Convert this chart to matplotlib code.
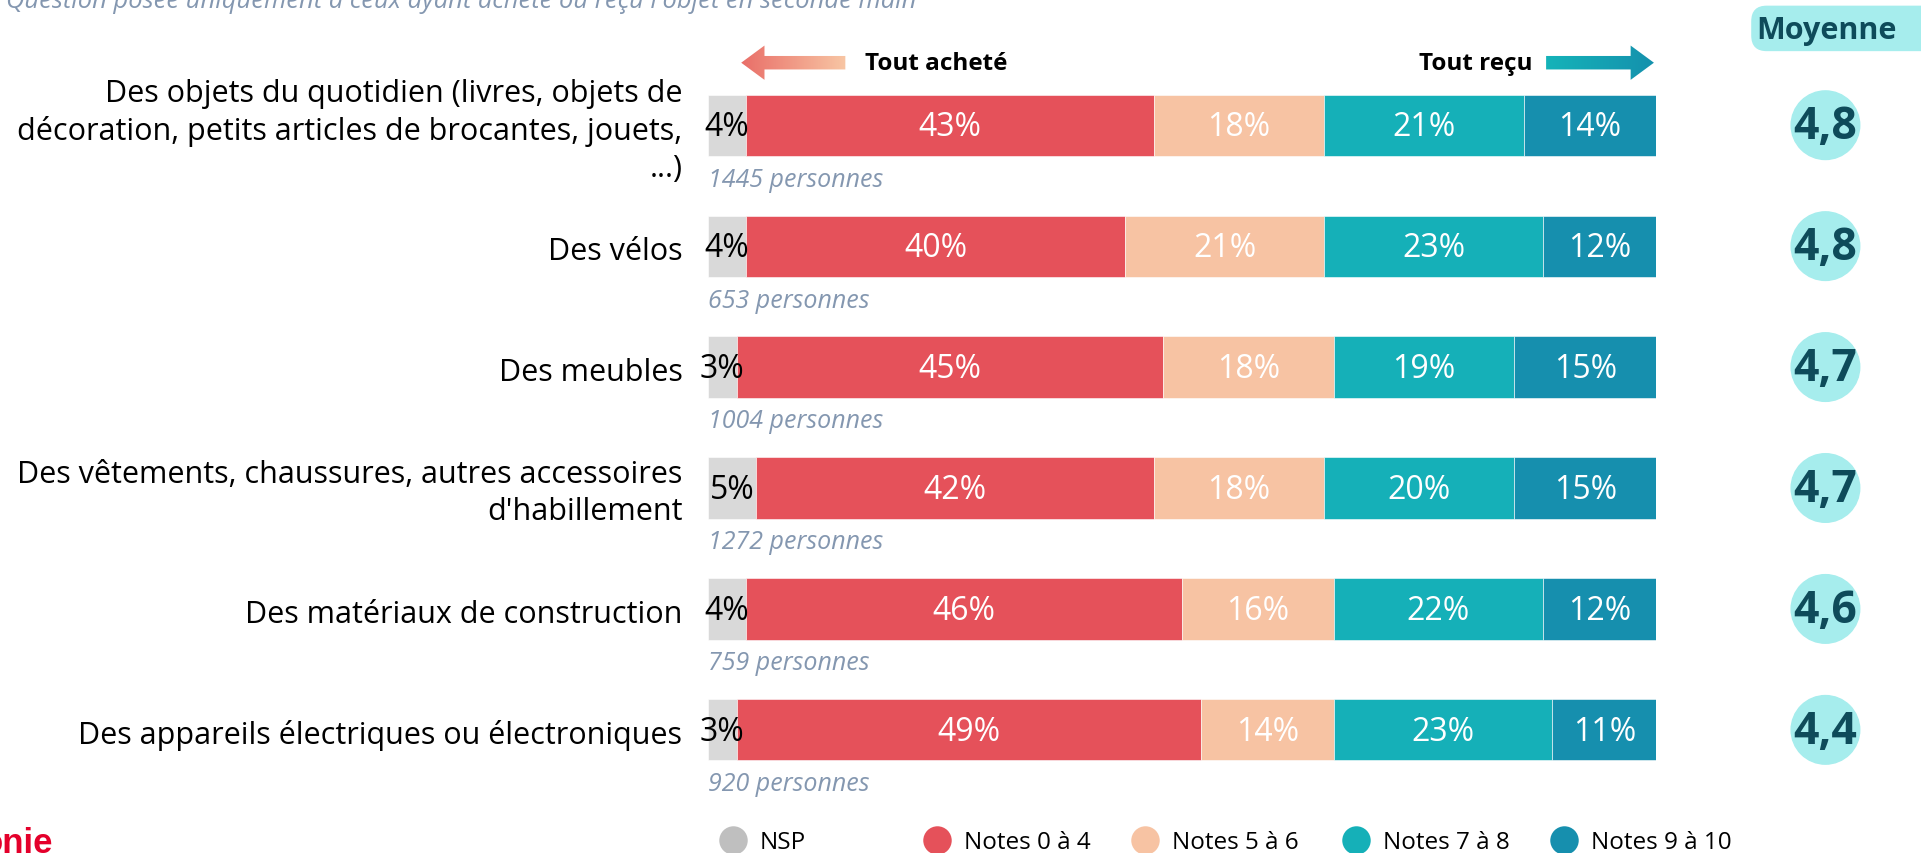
import numpy as np
import matplotlib.pyplot as plt
from matplotlib.patches import Circle, FancyBboxPatch, Polygon
from matplotlib.colors import LinearSegmentedColormap

plt.rcParams['font.family'] = ['Open Sans', 'DejaVu Sans']

categories = [
    "Des objets du quotidien (livres, objets de\ndécoration, petits articles de brocantes, jouets,\n...)",
    "Des vélos",
    "Des meubles",
    "Des vêtements, chaussures, autres accessoires\nd'habillement",
    "Des matériaux de construction",
    "Des appareils électriques ou électroniques",
]
counts = [1445, 653, 1004, 1272, 759, 920]
nsp = [4, 4, 3, 5, 4, 3]
notes_0_4 = [43, 40, 45, 42, 46, 49]
notes_5_6 = [18, 21, 18, 18, 16, 14]
notes_7_8 = [21, 23, 19, 20, 22, 23]
notes_9_10 = [14, 12, 15, 15, 12, 11]
moyennes = [4.8, 4.8, 4.7, 4.7, 4.6, 4.4]

series_names = ["NSP", "Notes 0 à 4", "Notes 5 à 6", "Notes 7 à 8", "Notes 9 à 10"]
series = [nsp, notes_0_4, notes_5_6, notes_7_8, notes_9_10]
colors = ["#D9D9D9", "#E5515A", "#F7C3A3", "#15B0B8", "#168FAE"]
legend_colors = ["#BFBFBF", "#E5515A", "#F7C3A3", "#15B0B8", "#168FAE"]
label_colors = ["black", "white", "white", "white", "white"]

grey_text = "#8497B0"
dark_teal = "#0E4B5A"
light_cyan = "#A6EDED"

W, H = 1568, 697
fig = plt.figure(figsize=(19.21, 8.54), dpi=100)

# overlay in screen-like units for text and decorations
ov = fig.add_axes([0, 0, 1, 1])
ov.set_xlim(0, W)
ov.set_ylim(H, 0)
ov.axis('off')

# bar area
x0, x1 = 578, 1352
ax = fig.add_axes([x0 / W, 0, (x1 - x0) / W, 1])
ax.set_xlim(0, 100)
ax.set_ylim(H, 0)
ax.axis('off')

rows = 103 + 98.7 * np.arange(len(categories))

left = np.zeros(len(categories))
for vals, col, lcol in zip(series, colors, label_colors):
    vals = np.array(vals, dtype=float)
    ax.barh(rows, vals, left=left, height=50, color=col, edgecolor='white', linewidth=0.4)
    for y, l, v in zip(rows, left, vals):
        ax.text(l + v / 2, y + 1, f"{int(v)}%", ha='center', va='center', color=lcol, fontsize=23)
    left += vals

for y, cat, n, m in zip(rows, categories, counts, moyennes):
    ov.text(557, y + 4, cat, ha='right', va='center', multialignment='right', fontsize=22,
            linespacing=1.3)
    ov.text(578, y + 44, f"{n} personnes", ha='left', va='center', color=grey_text,
            fontsize=18, style='italic')
    ov.add_patch(Circle((1490, y), 28, color=light_cyan))
    ov.text(1490, y + 1, f"{m:.1f}".replace('.', ','), ha='center', va='center',
            color=dark_teal, fontsize=32, fontweight='bold')

# subtitle, partly cut at the top
ov.text(5, 1, "Question posée uniquement à ceux ayant acheté ou reçu l'objet en seconde main",
        ha='left', va='center', color=grey_text, fontsize=18.4, style='italic')

# "Moyenne" header
ov.add_patch(FancyBboxPatch((1430, 6), 160, 36, boxstyle="round,pad=0,rounding_size=12",
                            color=light_cyan))
ov.text(1491, 25, "Moyenne", ha='center', va='center', color=dark_teal, fontsize=22,
        fontweight='bold')


def gradient_arrow(tip, tail, y, c_tip, c_tail):
    d = 1 if tip > tail else -1
    hl, hh, sh = 19, 14, 5.5
    base = tip - d * hl
    pts = [(tip, y), (base, y - hh), (base, y - sh), (tail, y - sh),
           (tail, y + sh), (base, y + sh), (base, y + hh)]
    poly = Polygon(pts, closed=True, facecolor='none', edgecolor='none')
    ov.add_patch(poly)
    cmap = LinearSegmentedColormap.from_list('g', [c_tail, c_tip])
    grad = np.linspace(0, 1, 256).reshape(1, -1)
    if d < 0:
        grad = grad[:, ::-1]
    im = ov.imshow(grad, cmap=cmap, aspect='auto',
                   extent=[min(tip, tail), max(tip, tail), y + hh, y - hh])
    im.set_clip_path(poly)


gradient_arrow(605, 690, 52, "#E96E68", "#F8C6A4")
gradient_arrow(1350, 1262, 52, "#1491AD", "#15B3B9")
ov.set_xlim(0, W)
ov.set_ylim(H, 0)

ov.text(706, 52, "Tout acheté", ha='left', va='center', fontsize=17.5, fontweight='bold')
ov.text(1251, 52, "Tout reçu", ha='right', va='center', fontsize=17.5, fontweight='bold')

# legend
legend_x = [598, 765, 935, 1107, 1277]
for lx, name, col in zip(legend_x, series_names, legend_colors):
    ov.scatter([lx], [686], s=420, color=col, marker='o', linewidths=0)
    ov.text(lx + 22, 688, name, ha='left', va='center', fontsize=17.5)

# logo fragment
ov.text(43, 696, "onie", ha='right', va='baseline', color='#E4002B', fontsize=25,
        fontweight='bold', family=['Liberation Sans', 'DejaVu Sans'])

fig.savefig('out.png', dpi=100)
